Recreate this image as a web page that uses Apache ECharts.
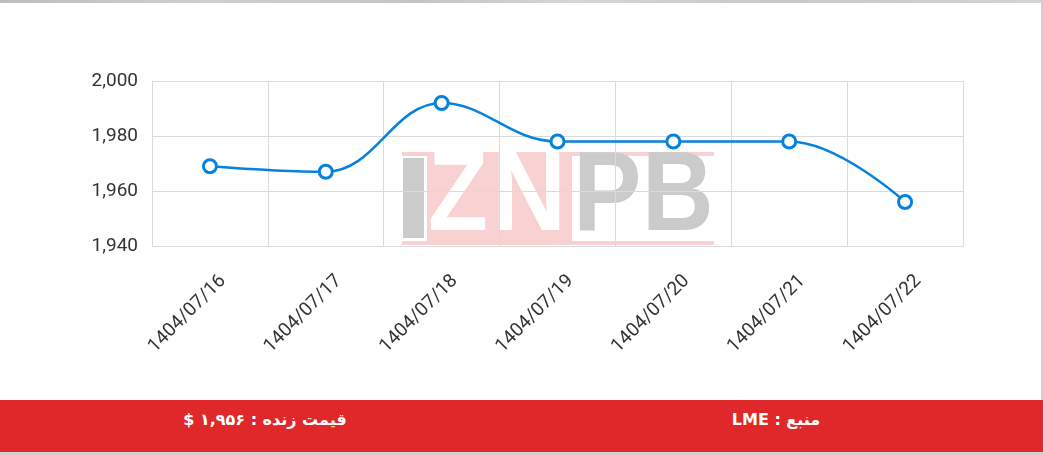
<!DOCTYPE html>
<html>
<head>
<meta charset="utf-8">
<script src="https://cdn.jsdelivr.net/npm/echarts@6/dist/echarts.min.js"></script>
<style>
html,body{margin:0;padding:0;background:#fff;overflow:hidden;}
#chart{position:absolute;left:0;top:0;width:1043px;height:455px;}
#topbar{position:absolute;left:0;top:0;width:1043px;height:3px;background:linear-gradient(90deg,#bdbdbd,#cfcfcf 20%,#c4c4c4 40%,#d6d6d6 55%,#c8c8c8 75%,#d4d4d4);}
#rightline{position:absolute;left:1041px;top:0;width:2px;height:455px;background:#cfcfcf;}
#footer{position:absolute;left:0;top:400px;width:1043px;height:52px;background:#e0282a;}
#footline{position:absolute;left:0;top:452px;width:1043px;height:3px;background:#d0d0d0;}
.ft{position:absolute;top:0;height:40px;line-height:40px;color:#fff;font-family:"DejaVu Sans",sans-serif;font-weight:bold;font-size:16px;white-space:nowrap;transform:translateX(-50%);}
</style>
</head>
<body>
<div id="chart"></div>
<div id="topbar"></div>
<div id="rightline"></div>
<div id="footer">
  <div class="ft" id="ftLeft" dir="rtl" style="left:265px;"></div>
  <div class="ft" id="ftRight" dir="rtl" style="left:776px;"></div>
</div>
<div id="footline"></div>
<script>
const categories = ['1404/07/16','1404/07/17','1404/07/18','1404/07/19','1404/07/20','1404/07/21','1404/07/22'];
const prices = [1969, 1967, 1992, 1978, 1978, 1978, 1956];
const yTicks = {min: 1940, max: 2000, interval: 20};
const livePriceText = 'قیمت زنده : ۱,۹۵۶ $';
const sourceText = 'منبع : LME';

document.getElementById('ftLeft').textContent = livePriceText;
document.getElementById('ftRight').textContent = sourceText;

const chart = echarts.init(document.getElementById('chart'), null, {renderer: 'canvas'});
const gridColor = '#dadada';
const pink = '#f8d2d2';
const grayLogo = '#cbcbcb';
const logoFont = 'bold 114px "Liberation Sans", Arial, sans-serif';
const option = {
  backgroundColor: '#fff',
  animation: false,
  grid: {left: 152, right: 80, top: 81, bottom: 209, containLabel: false},
  graphic: [
    {type: 'rect', z: -5, shape: {x: 402, y: 152, width: 312, height: 4}, style: {fill: pink}},
    {type: 'rect', z: -5, shape: {x: 402, y: 241, width: 312, height: 4}, style: {fill: pink}},
    {type: 'rect', z: -5, shape: {x: 427, y: 153, width: 145, height: 90}, style: {fill: pink}},
    {type: 'rect', z: -4, shape: {x: 403, y: 158, width: 21, height: 80}, style: {fill: grayLogo}},
    {type: 'text', z: -3, x: 428, y: 199, scaleX: 0.86, style: {text: 'Z', font: logoFont, fill: '#fff', verticalAlign: 'middle'}},
    {type: 'text', z: -3, x: 492, y: 199, scaleX: 0.9, style: {text: 'N', font: logoFont, fill: '#fff', verticalAlign: 'middle'}},
    {type: 'text', z: -3, x: 573, y: 199, scaleX: 0.9, style: {text: 'P', font: logoFont, fill: grayLogo, verticalAlign: 'middle'}},
    {type: 'text', z: -3, x: 642, y: 199, scaleX: 0.87, style: {text: 'B', font: logoFont, fill: grayLogo, verticalAlign: 'middle'}}
  ],
  xAxis: {
    type: 'category',
    data: categories,
    boundaryGap: true,
    axisLine: {show: true, lineStyle: {color: gridColor}},
    axisTick: {show: false},
    splitLine: {show: true, lineStyle: {color: gridColor, width: 1}},
    axisLabel: {
      rotate: 45, interval: 0, align: 'right', verticalAlign: 'top',
      padding: [9, 0, 0, 0], margin: 19,
      fontFamily: 'Roboto', fontSize: 19, color: '#333'
    }
  },
  yAxis: {
    type: 'value',
    min: yTicks.min, max: yTicks.max, interval: yTicks.interval,
    axisLine: {show: true, lineStyle: {color: gridColor}},
    axisTick: {show: false},
    splitLine: {show: true, lineStyle: {color: gridColor, width: 1}},
    axisLabel: {
      margin: 14, fontFamily: 'Roboto', fontSize: 19, color: '#333',
      formatter: v => v.toLocaleString('en-US')
    }
  },
  series: [{
    type: 'line',
    data: prices,
    smooth: 0.4,
    symbol: 'circle',
    symbolSize: 13,
    lineStyle: {color: '#0682de', width: 2.5},
    itemStyle: {color: '#fff', borderColor: '#0682de', borderWidth: 3},
    z: 5
  }]
};
chart.setOption(option);
</script>
</body>
</html>
